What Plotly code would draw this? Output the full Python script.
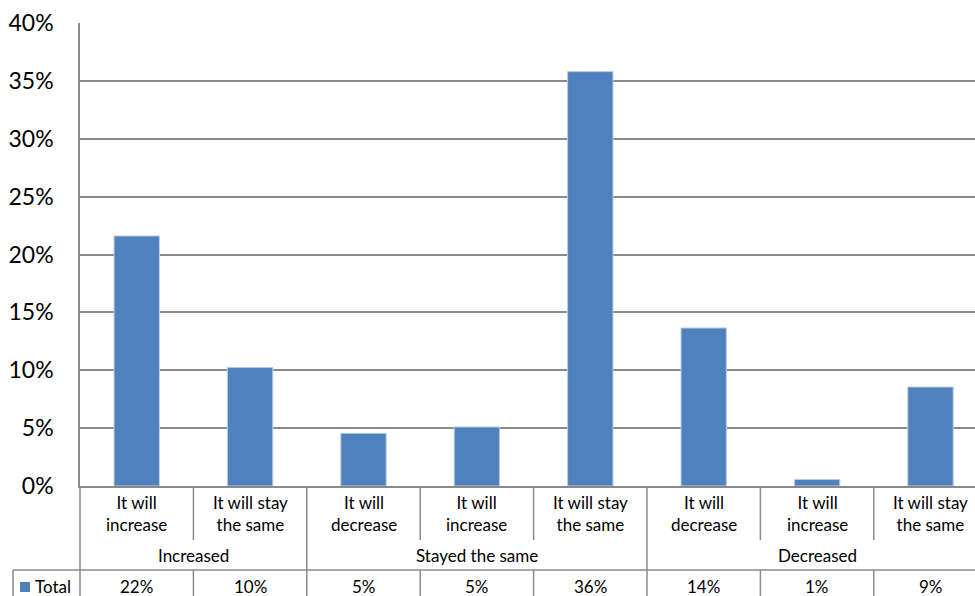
import plotly.graph_objects as go

# ---- data ----
groups = ["Increased", "Increased",
          "Stayed the same", "Stayed the same", "Stayed the same",
          "Decreased", "Decreased", "Decreased"]
subcats = ["It will\nincrease", "It will stay\nthe same",
           "It will\ndecrease", "It will\nincrease", "It will stay\nthe same",
           "It will\ndecrease", "It will\nincrease", "It will stay\nthe same"]
values = [21.6, 10.25, 4.55, 5.1, 35.8, 13.65, 0.57, 8.55]
series_name = "Total"
y_ticks = [0, 5, 10, 15, 20, 25, 30, 35, 40]

# ---- layout constants ----
W, H = 975, 596
ML, MT, MB = 80, 23, 110
PLOT_H = H - MT - MB
GRID = "#8a8a8a"
BAR = "#4F81BD"
FONT = "Lato, Carlito, 'Liberation Sans', sans-serif"
TFS = 17

def py(pix):
    """convert pixel y (from top) to paper coordinate"""
    return (H - MB - pix) / PLOT_H

n = len(values)
xs = list(range(n))

fig = go.Figure()
fig.add_trace(go.Bar(
    x=xs, y=values, width=0.4, name=series_name,
    marker=dict(color=BAR, line=dict(color="#b9cde5", width=1)),
    showlegend=False,
))

shapes = []
annotations = []

# category labels row
for i, lab in enumerate(subcats):
    annotations.append(dict(
        x=i, xref="x", y=py(513), yref="paper", text=lab.replace("\n", "<br>"),
        showarrow=False, font=dict(size=TFS, color="#000", family=FONT),
        xanchor="center", yanchor="middle", align="center"))

# group labels row
order = []
for g in groups:
    if g not in order:
        order.append(g)
for g in order:
    idx = [i for i, gg in enumerate(groups) if gg == g]
    annotations.append(dict(
        x=sum(idx) / len(idx), xref="x", y=py(555), yref="paper", text=g,
        showarrow=False, font=dict(size=TFS, color="#000", family=FONT),
        xanchor="center", yanchor="middle"))

# values row
for i, v in enumerate(values):
    annotations.append(dict(
        x=i, xref="x", y=py(586), yref="paper", text=f"{round(v):.0f}%",
        showarrow=False, font=dict(size=TFS, color="#000", family=FONT),
        xanchor="center", yanchor="middle"))

line = dict(color=GRID, width=1.5)
# vertical dividers
for i in range(n - 1):
    xb = i + 0.5
    if groups[i] != groups[i + 1]:
        shapes.append(dict(type="line", xref="x", yref="paper", x0=xb, x1=xb,
                           y0=py(486), y1=py(H + 2), line=line))
    else:
        shapes.append(dict(type="line", xref="x", yref="paper", x0=xb, x1=xb,
                           y0=py(486), y1=py(540), line=line))
        shapes.append(dict(type="line", xref="x", yref="paper", x0=xb, x1=xb,
                           y0=py(570), y1=py(H + 2), line=line))
# left border of table (y-axis continued)
shapes.append(dict(type="line", xref="paper", yref="paper", x0=0, x1=0,
                   y0=py(486), y1=py(H + 2), line=line))
# horizontal line above value row, extending into header cell
x_head = -(ML - 13) / (W - ML)
shapes.append(dict(type="line", xref="paper", yref="paper", x0=x_head, x1=1.01,
                   y0=py(570), y1=py(570), line=line))
shapes.append(dict(type="line", xref="paper", yref="paper", x0=x_head, x1=x_head,
                   y0=py(570), y1=py(H + 2), line=line))
# legend key square
sq_x0 = -(ML - 20) / (W - ML)
sq_x1 = -(ML - 30) / (W - ML)
shapes.append(dict(type="rect", xref="paper", yref="paper", x0=sq_x0, x1=sq_x1,
                   y0=py(592), y1=py(582), fillcolor=BAR, line=dict(width=0)))
annotations.append(dict(
    x=-(ML - 33) / (W - ML), xref="paper", y=py(586), yref="paper",
    text=series_name, showarrow=False,
    font=dict(size=TFS, color="#000", family=FONT),
    xanchor="left", yanchor="middle"))

fig.update_layout(
    width=W, height=H,
    margin=dict(l=ML, r=0, t=MT, b=MB),
    paper_bgcolor="white", plot_bgcolor="white",
    font=dict(family=FONT, color="#000"),
    xaxis=dict(range=[-0.5, (W - ML) / 113.4 - 0.5], showticklabels=False,
               showgrid=False, zeroline=False, showline=True,
               linecolor=GRID, linewidth=1.5, ticks=""),
    yaxis=dict(range=[0, 40], tickvals=y_ticks,
               ticktext=[f"{t}%" for t in y_ticks],
               showgrid=True, gridcolor=GRID, gridwidth=1.5,
               zeroline=False, showline=True, linecolor=GRID, linewidth=1.5,
               ticks="", ticklabelstandoff=20,
               tickfont=dict(size=23, color="#000", family=FONT)),
    shapes=shapes,
    annotations=annotations,
)

fig.write_html("out.html")
